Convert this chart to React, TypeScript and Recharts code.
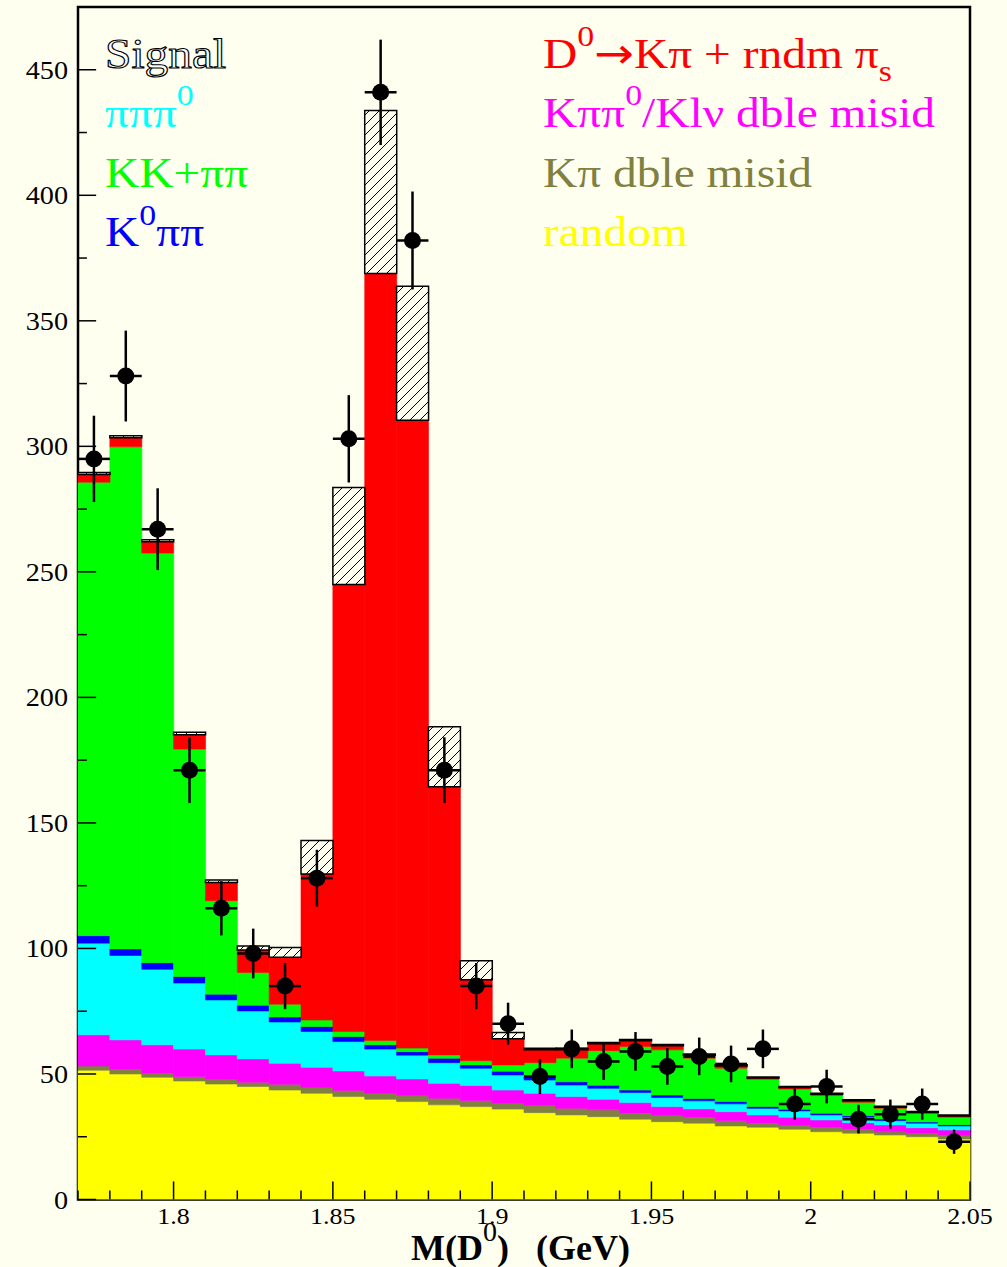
import { Bar, ComposedChart, ErrorBar, ReferenceArea, Scatter, XAxis, YAxis } from "recharts";

// bin centres of M(D0) in GeV, 10 MeV bins
const BIN_CENTERS = [
  1.775, 1.785, 1.795, 1.805, 1.815, 1.825, 1.835, 1.845, 1.855, 1.865,
  1.875, 1.885, 1.895, 1.905, 1.915, 1.925, 1.935, 1.945, 1.955, 1.965,
  1.975, 1.985, 1.995, 2.005, 2.015, 2.025, 2.035, 2.045,
];

// stacked MC components (bottom to top), entries per bin
const RANDOM = [51.5, 50.0, 48.7, 47.2, 46.0, 45.0, 43.6, 42.3, 41.0, 39.9, 39.0, 37.7, 37.0, 36.0, 34.6, 33.7, 33.0, 32.0, 31.0, 30.4, 29.3, 28.8, 28.0, 27.0, 26.4, 25.7, 25.0, 24.1];
const KPI_MISID = [1.7, 1.9, 1.6, 1.7, 2.0, 1.7, 2.3, 2.3, 2.4, 2.4, 2.4, 2.6, 2.4, 2.3, 2.8, 2.6, 2.7, 2.4, 2.7, 2.4, 2.1, 1.6, 1.7, 1.8, 1.6, 1.3, 1.4, 1.6];
const KPIPI0_MISID = [12.4, 11.7, 11.3, 11.0, 9.6, 9.3, 8.4, 8.1, 7.8, 6.9, 6.6, 6.0, 6.0, 5.3, 4.9, 4.7, 4.2, 4.2, 3.3, 3.3, 3.6, 3.3, 3.1, 2.9, 2.6, 2.7, 2.2, 2.0];
const PIPIPI0 = [36.5, 33.6, 30.1, 26.3, 21.9, 19.1, 16.4, 14.2, 11.7, 10.7, 9.5, 8.2, 6.9, 6.0, 5.3, 4.6, 4.4, 4.0, 3.6, 3.2, 3.1, 2.6, 2.5, 2.0, 2.2, 1.7, 1.8, 1.6];
const K0PIPI = [3.0, 2.6, 2.6, 2.6, 2.3, 2.3, 2.0, 2.0, 2.0, 1.7, 1.4, 1.8, 1.3, 1.5, 1.6, 1.3, 1.2, 1.0, 1.0, 0.9, 0.9, 0.7, 0.6, 0.7, 0.6, 0.7, 0.5, 0.5];
const KK_PIPI = [180.6, 200.0, 163.2, 90.6, 37.2, 13.0, 5.1, 2.6, 2.0, 1.7, 1.4, 1.3, 1.7, 2.5, 5.3, 9.4, 13.8, 17.3, 18.0, 16.1, 13.3, 10.9, 8.1, 7.0, 5.3, 4.2, 3.5, 3.0];
const KPI_RNDM_PIS = [3.1, 3.6, 4.5, 5.7, 7.3, 9.0, 18.7, 58.2, 178.1, 305.5, 250.1, 106.8, 32.2, 10.4, 5.1, 3.3, 2.7, 2.3, 1.6, 1.2, 0.9, 0.5, 0.6, 0.5, 0.6, 0.4, 0.3, 0.5];
const SIGNAL = [0.8, 0.8, 0.8, 1.0, 1.0, 1.6, 3.9, 13.3, 38.6, 65.0, 53.4, 23.9, 7.6, 2.5, 0.6, 0.5, 0.5, 0.5, 0.5, 0.5, 0.5, 0.4, 0.4, 0.4, 0.4, 0.4, 0.4, 0.4];

// data points
const DATA_COUNTS = [295, 328, 267, 171, 116, 98, 85, 128, 303, 441, 382, 171, 85, 70, 49, 60, 55, 59, 53, 57, 54, 60, 38, 45, 32, 34, 38, 23];
const DATA_ERRORS = [17.2, 18.1, 16.3, 13.1, 10.8, 9.9, 9.2, 11.3, 17.4, 21.0, 19.5, 13.1, 9.2, 8.4, 7.0, 7.7, 7.4, 7.7, 7.3, 7.5, 7.3, 7.7, 6.2, 6.7, 5.7, 5.8, 6.2, 4.8];
const BIN_HALF_WIDTH = 0.005;

const X_TICKS = [
  1.77, 1.78, 1.79, 1.8, 1.81, 1.82, 1.83, 1.84, 1.85, 1.86, 1.87, 1.88, 1.89, 1.9, 1.91,
  1.92, 1.93, 1.94, 1.95, 1.96, 1.97, 1.98, 1.99, 2, 2.01, 2.02, 2.03, 2.04, 2.05,
];
const X_LABELS = [1.8, 1.85, 1.9, 1.95, 2, 2.05];
const Y_TICKS = [0, 25, 50, 75, 100, 125, 150, 175, 200, 225, 250, 275, 300, 325, 350, 375, 400, 425, 450];
const Y_LABELS = [0, 50, 100, 150, 200, 250, 300, 350, 400, 450];
const X_DOMAIN = [1.77, 2.05];
const Y_DOMAIN = [0, 475];
// half lengths of the inward tick marks in axis units (major, minor)
const X_TICK_HALF = [3.6, 1.8];
const Y_TICK_HALF = [0.00285, 0.0014];

const BG = "#FFFFF0";
const FONT = "'Liberation Serif', 'Times New Roman', serif";
const STRETCH = 1.13; // text in the original is drawn a bit wide
const W = 1007;
const H = 1267;

const bins = BIN_CENTERS.map((c, i) => ({
  bin: c.toFixed(3),
  random: RANDOM[i],
  kpiMisid: KPI_MISID[i],
  kpipi0: KPIPI0_MISID[i],
  pipipi0: PIPIPI0[i],
  k0pipi: K0PIPI[i],
  kkpipi: KK_PIPI[i],
  kpiRndm: KPI_RNDM_PIS[i],
  signal: SIGNAL[i],
}));

const isXLabel = (t: number) => X_LABELS.some((v) => Math.abs(v - t) < 1e-6);

// data points plus the inward ROOT-style tick marks, drawn as error bars so they sit above the fills
const markers = [
  ...BIN_CENTERS.map((c, i) => ({ x: c, y: DATA_COUNTS[i], ex: BIN_HALF_WIDTH, ey: DATA_ERRORS[i], tx: 0, ty: 0, dot: true })),
  ...X_TICKS.map((t) => {
    const h = isXLabel(t) ? X_TICK_HALF[0] : X_TICK_HALF[1];
    return { x: t, y: Y_DOMAIN[0] + h, ex: 0, ey: 0, tx: 0, ty: h, dot: false };
  }),
  ...Y_TICKS.map((t) => {
    const h = Y_LABELS.includes(t) ? Y_TICK_HALF[0] : Y_TICK_HALF[1];
    return { x: X_DOMAIN[0] + h, y: t, ex: 0, ey: 0, tx: h, ty: 0, dot: false };
  }),
];

const layers = [
  { key: "random", color: "#FFFF00" },
  { key: "kpiMisid", color: "#808040" },
  { key: "kpipi0", color: "#FF00FF" },
  { key: "pipipi0", color: "#00FFFF" },
  { key: "k0pipi", color: "#0000FF" },
  { key: "kkpipi", color: "#00FF00" },
  { key: "kpiRndm", color: "#FF0000" },
];

function YTick({ x, y, payload }: any) {
  if (!Y_LABELS.includes(payload.value)) return <g />;
  return (
    <text
      transform={`translate(${x - 10},${y + 9}) scale(${STRETCH},1)`}
      textAnchor="end"
      fontSize={25}
      fontFamily={FONT}
      fill="#000"
    >
      {payload.value}
    </text>
  );
}

function XTick({ x, y, payload }: any) {
  if (!isXLabel(payload.value)) return <g />;
  return (
    <text
      transform={`translate(${x},${y + 24}) scale(${STRETCH},1)`}
      textAnchor="middle"
      fontSize={23}
      fontFamily={FONT}
      fill="#000"
    >
      {String(payload.value)}
    </text>
  );
}

function Dot(props: any) {
  if (!props.payload || !props.payload.dot) return <g />;
  return <circle cx={props.cx} cy={props.cy} r={8.5} fill="#000" />;
}

function Label({ x, y, fill, children, ...rest }: any) {
  return (
    <text
      transform={`translate(${x},${y}) scale(${STRETCH},1)`}
      fontFamily={FONT}
      fontSize={42}
      fill={fill}
      style={{ whiteSpace: "pre" }}
      {...rest}
    >
      {children}
    </text>
  );
}

function Legend() {
  return (
    <svg width={W} height={H} style={{ position: "absolute", left: 0, top: 0, pointerEvents: "none" }}>
      <Label x={105} y={68} fill="#FFFFFF" stroke="#000" strokeWidth={1.1}>Signal</Label>
      <Label x={105} y={127} fill="#00FFFF">
        πππ<tspan fontSize={30} dy={-22}>0</tspan>
      </Label>
      <Label x={105} y={187} fill="#00FF00">KK+ππ</Label>
      <Label x={105} y={246} fill="#0000FF">
        K<tspan fontSize={30} dy={-21}>0</tspan><tspan dy={21}>ππ</tspan>
      </Label>
      <Label x={543} y={68} fill="#FF0000">
        D<tspan fontSize={30} dy={-22}>0</tspan>
        <tspan dy={22} fontFamily="'DejaVu Sans', sans-serif" fontSize={42}>→</tspan>
        <tspan>Kπ + rndm π</tspan>
        <tspan fontSize={30} dy={13}>s</tspan>
      </Label>
      <Label x={543} y={127} fill="#FF00FF">
        Kππ<tspan fontSize={30} dy={-22}>0</tspan><tspan dy={22}>/Klν dble misid</tspan>
      </Label>
      <Label x={543} y={187} fill="#808040">Kπ dble misid</Label>
      <Label x={543} y={246} fill="#FFFF00">random</Label>
      <text x={411} y={1260} fontFamily={FONT} fontSize={36} fontWeight="bold" fill="#000" style={{ whiteSpace: "pre" }}>
        M(D<tspan fontSize={28} fontWeight="normal" dy={-19}>0</tspan>
        <tspan dy={19}>)   (GeV)</tspan>
      </text>
    </svg>
  );
}

export default function App() {
  return (
    <div style={{ position: "absolute", left: 0, top: 0, width: W, height: H, background: BG, overflow: "hidden" }}>
      <svg width={0} height={0} style={{ position: "absolute" }}>
        <defs>
          <pattern id="hatch" patternUnits="userSpaceOnUse" width={10} height={10}>
            <rect width={10} height={10} fill={BG} />
            <path d="M-1,1 l2,-2 M0,10 l10,-10 M9,11 l2,-2" stroke="#000" strokeWidth={1} />
          </pattern>
        </defs>
      </svg>

      <ComposedChart
        width={W}
        height={H}
        data={bins}
        margin={{ top: 7, right: 37, bottom: 0, left: 0 }}
        barCategoryGap={0}
        barGap={0}
      >
        <XAxis xAxisId="cat" dataKey="bin" hide height={0} />
        <XAxis
          xAxisId="num"
          dataKey="x"
          type="number"
          domain={X_DOMAIN}
          ticks={X_TICKS}
          interval={0}
          allowDataOverflow
          height={67.5}
          tickSize={0}
          tickMargin={0}
          axisLine={false}
          tickLine={false}
          tick={<XTick />}
        />
        <YAxis
          domain={Y_DOMAIN}
          ticks={Y_TICKS}
          interval={0}
          allowDataOverflow
          width={78}
          tickSize={0}
          tickMargin={0}
          axisLine={false}
          tickLine={false}
          tick={<YTick />}
        />
        {layers.map((l) => (
          <Bar
            key={l.key}
            xAxisId="cat"
            dataKey={l.key}
            stackId="h"
            fill={l.color}
            stroke={l.color}
            strokeWidth={0.6}
            isAnimationActive={false}
          />
        ))}
        <Bar xAxisId="cat" dataKey="signal" stackId="h" fill="url(#hatch)" stroke="#000" strokeWidth={1.5} isAnimationActive={false} />
        <Scatter xAxisId="num" data={markers} dataKey="y" shape={<Dot />} isAnimationActive={false}>
          <ErrorBar dataKey="ey" direction="y" width={0} stroke="#000" strokeWidth={2.5} />
          <ErrorBar dataKey="ex" direction="x" width={0} stroke="#000" strokeWidth={2.5} />
          <ErrorBar dataKey="ty" direction="y" width={0} stroke="#000" strokeWidth={1.5} />
          <ErrorBar dataKey="tx" direction="x" width={0} stroke="#000" strokeWidth={1.5} />
        </Scatter>
        <ReferenceArea
          xAxisId="num"
          x1={X_DOMAIN[0]}
          x2={X_DOMAIN[1]}
          y1={Y_DOMAIN[0]}
          y2={Y_DOMAIN[1]}
          fill="none"
          stroke="#000"
          strokeWidth={2.5}
          ifOverflow="visible"
        />
      </ComposedChart>
      <Legend />
    </div>
  );
}
